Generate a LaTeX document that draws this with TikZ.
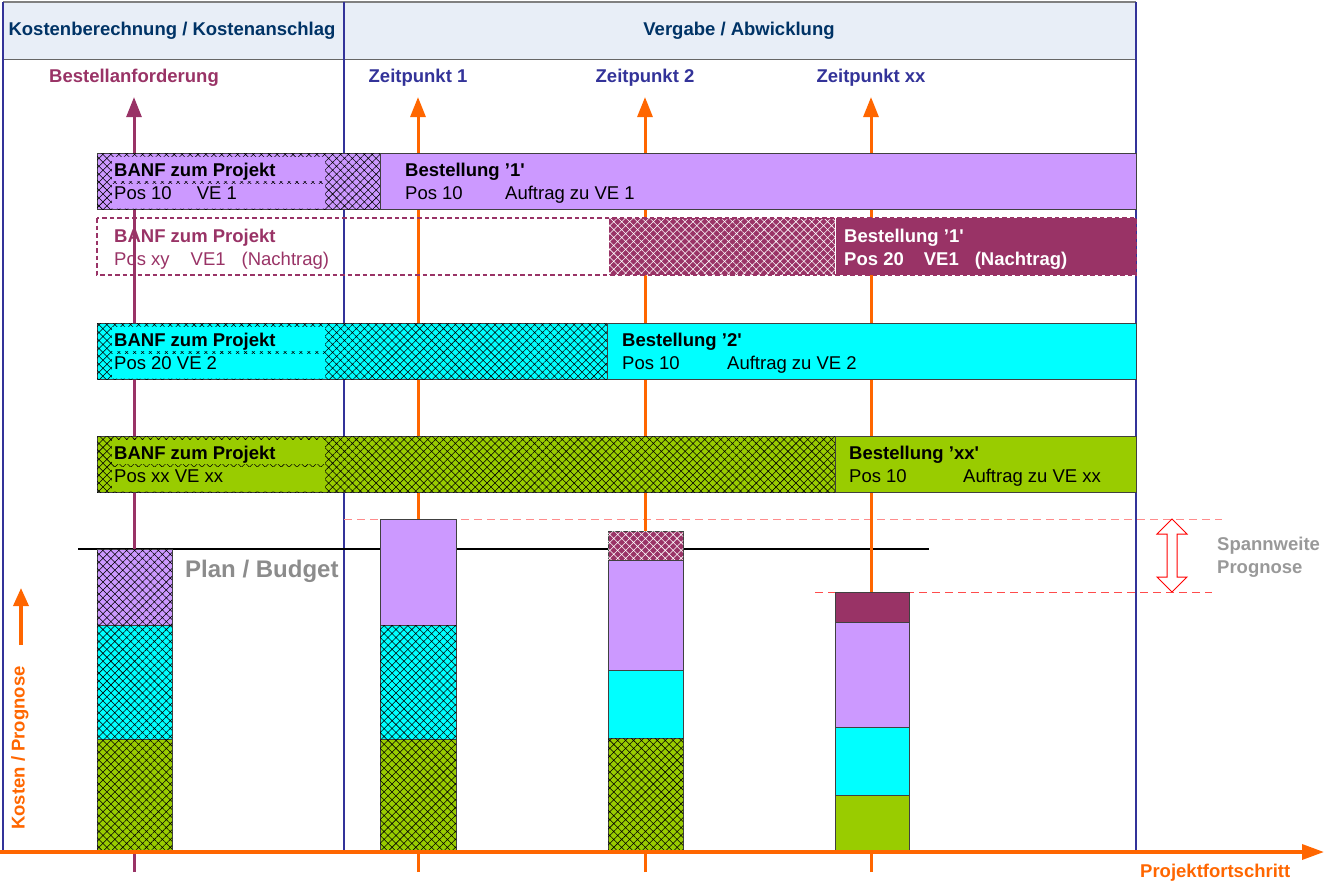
\documentclass[tikz,border=0pt]{standalone}
\usepackage{fontspec}
\setmainfont{Liberation Sans}
\usetikzlibrary{arrows.meta,patterns.meta}
\definecolor{lila}{HTML}{CC99FF}
\definecolor{tuerkis}{HTML}{00FFFF}
\definecolor{gruen}{HTML}{99CC00}
\definecolor{weinrot}{HTML}{993366}
\definecolor{projorange}{HTML}{FF6600}
\definecolor{rahmenblau}{HTML}{333399}
\definecolor{kopfblau}{HTML}{003366}
\definecolor{kopffill}{HTML}{E8EEF7}
\definecolor{grautext}{HTML}{8C8C8C}
\tikzset{every node/.style={inner sep=0pt},
  norm/.style={font=\fontsize{18.5}{22}\selectfont},
  fett/.style={font=\fontsize{18.5}{22}\selectfont\bfseries},
  txt/.style={anchor=base west},
  mitte/.style={anchor=base},
  balken/.style={draw=black!75,line width=.8pt},
  schraffur/.style={postaction={pattern={Hatch[angle=45,distance=5.6pt,line width=.55pt]},pattern color=#1}},
  schraffur/.default=black,
  pfeil/.style={line width=3pt,-{Triangle[length=20pt,width=15pt]}}}

\begin{document}
\begin{tikzpicture}[x=1pt,y=-1pt]
\useasboundingbox (0,0) rectangle (1326,883);

% Kopfzeile
\fill[kopffill] (3,2) rectangle (1136,59);
\draw[gray,line width=2pt] (3,2) -- (1136,2);
\draw[black!60] (3,59) -- (1136,59);
\node[fett,mitte,kopfblau] (kb) at (172,36) {Kostenberechnung / Kostenanschlag};
\node[fett,mitte,kopfblau] (va) at (739,36) {Vergabe / Abwicklung};
\draw[rahmenblau,line width=2pt] (3,2) -- (3,852) (344,2) -- (344,852) (1136,2) -- (1136,852);

\node[fett,mitte,weinrot] (ba) at (134,83) {Bestellanforderung};
\node[fett,mitte,rahmenblau] (z1) at (418,83) {Zeitpunkt 1};
\node[fett,mitte,rahmenblau] (z2) at (645,83) {Zeitpunkt 2};
\node[fett,mitte,rahmenblau] (zx) at (871,83) {Zeitpunkt xx};

% Prognose
\draw[red!45,line width=1pt,dash pattern=on 8pt off 5pt] (344,519) -- (1222,519);
\draw[red!70,line width=1pt,dash pattern=on 8pt off 5pt] (815,592) -- (1212,592);
\draw[line width=2pt] (78,549) -- (929,549);

\coordinate (bafuss) at (134,872);
\coordinate (z1fuss) at (418,872);
\coordinate (z2fuss) at (645,872);
\coordinate (zxfuss) at (871,872);
\draw[pfeil,weinrot] (bafuss) -- ([yshift=-10pt]ba.south);
\draw[pfeil,projorange] (z1fuss) -- ([yshift=-10pt]z1.south);
\draw[pfeil,projorange] (z2fuss) -- ([yshift=-10pt]z2.south);
\draw[pfeil,projorange] (zxfuss) -- ([yshift=-10pt]zx.south);

% VE 1
\draw[balken,fill=lila,schraffur] (97,153) rectangle (380,209);
\fill[lila] (112,157) rectangle (325,181) (112,184) rectangle (325,208.5);
\node[fett,txt] (b1a) at (114,176) {BANF zum Projekt};
\node[norm,txt] (b1b) at (114,199) {Pos 10\hspace{25pt}VE 1};
\draw[balken,fill=lila] (380,153) rectangle (1136,209);
\node[fett,txt] (s1a) at (405,176) {Bestellung ’1\textquotesingle};
\node[norm,txt] (s1b) at (405,199) {Pos 10};
\node[norm,txt] (s1c) at (505,199) {Auftrag zu VE 1};

% Nachtrag
\fill[weinrot,schraffur=white] (609,218) rectangle (835,275);
\fill[weinrot] (835,218) rectangle (1136,275);
\draw[white,line width=1pt] (835,218) -- (835,275);
\draw[weinrot,line width=2pt,dash pattern=on 4.5pt off 3pt] (97,218) rectangle (1136,275);
\node[fett,txt,weinrot] (b2a) at (114,242) {BANF zum Projekt};
\node[norm,txt,weinrot] (b2b) at (114,265) {Pos xy\hspace{21pt}VE1\hspace{16pt}(Nachtrag)};
\node[fett,txt,white] (s2a) at (844,242) {Bestellung ’1\textquotesingle};
\node[fett,txt,white] (s2b) at (844,265) {Pos 20\hspace{20pt}VE1\hspace{16pt}(Nachtrag)};

% VE 2
\draw[balken,fill=tuerkis,schraffur] (97,323) rectangle (607,379);
\fill[tuerkis] (112,327) rectangle (325,351) (112,354) rectangle (325,378.5);
\node[fett,txt] (b3a) at (114,346) {BANF zum Projekt};
\node[norm,txt] (b3b) at (114,369) {Pos 20 VE 2};
\draw[balken,fill=tuerkis] (607,323) rectangle (1136,379);
\node[fett,txt] (s3a) at (622,346) {Bestellung ’2\textquotesingle};
\node[norm,txt] (s3b) at (622,369) {Pos 10};
\node[norm,txt] (s3c) at (727,369) {Auftrag zu VE 2};

% VE xx
\draw[balken,fill=gruen,schraffur] (97,436) rectangle (835,492);
\fill[gruen] (112,440) rectangle (325,464) (112,467) rectangle (325,491.5);
\node[fett,txt] (b4a) at (114,459) {BANF zum Projekt};
\node[norm,txt] (b4b) at (114,482) {Pos xx VE xx};
\draw[balken,fill=gruen] (835,436) rectangle (1136,492);
\node[fett,txt] (s4a) at (849,459) {Bestellung ’xx\textquotesingle};
\node[norm,txt] (s4b) at (849,482) {Pos 10};
\node[norm,txt] (s4c) at (963,482) {Auftrag zu VE xx};

% Saeulen
\draw[balken,fill=lila,schraffur] (97,549) rectangle (172,625);
\draw[balken,fill=tuerkis,schraffur] (97,625) rectangle (172,739);
\draw[balken,fill=gruen,schraffur] (97,739) rectangle (172,851);

\draw[balken,fill=lila] (380,519) rectangle (456,625);
\draw[balken,fill=tuerkis,schraffur] (380,625) rectangle (456,739);
\draw[balken,fill=gruen,schraffur] (380,739) rectangle (456,851);

\draw[balken,fill=weinrot,schraffur=white] (608,531) rectangle (683,560);
\draw[balken,fill=lila] (608,560) rectangle (683,670);
\draw[balken,fill=tuerkis] (608,670) rectangle (683,738);
\draw[balken,fill=gruen,schraffur] (608,738) rectangle (683,851);

\draw[balken,fill=weinrot] (835,592) rectangle (909,622);
\draw[balken,fill=lila] (835,622) rectangle (909,727);
\draw[balken,fill=tuerkis] (835,727) rectangle (909,795);
\draw[balken,fill=gruen] (835,795) rectangle (909,851);

\node[txt,grautext,font=\fontsize{24}{28}\selectfont\bfseries] (pb) at (185,577) {Plan / Budget};

\draw[red,fill=white,line width=1pt] (1172,519) -- (1187,534) -- (1177,534) -- (1177,577) -- (1187,577)
  -- (1172,592) -- (1157,577) -- (1167,577) -- (1167,534) -- (1157,534) -- cycle;
\node[fett,txt,gray!80] (sw1) at (1217,550) {Spannweite};
\node[fett,txt,gray!80] (sw2) at (1217,573) {Prognose};

% Achsen
\coordinate (achse0) at (0,852);
\coordinate (achse1) at (1324,852);
\draw[projorange,line width=3.5pt,-{Triangle[length=22pt,width=15pt]}] (achse0) -- (achse1);
\node[fett,txt,projorange] (pf) at (1140,877) {Projektfortschritt};
\node[fett,projorange,rotate=90] (kp) at (20,748) {Kosten / Prognose};
\coordinate (kpfuss) at (21,645);
\coordinate (kpspitze) at (21,588);
\draw[projorange,line width=3.5pt,-{Triangle[length=18pt,width=15pt]}] (kpfuss) -- (kpspitze);
\end{tikzpicture}
\end{document}
